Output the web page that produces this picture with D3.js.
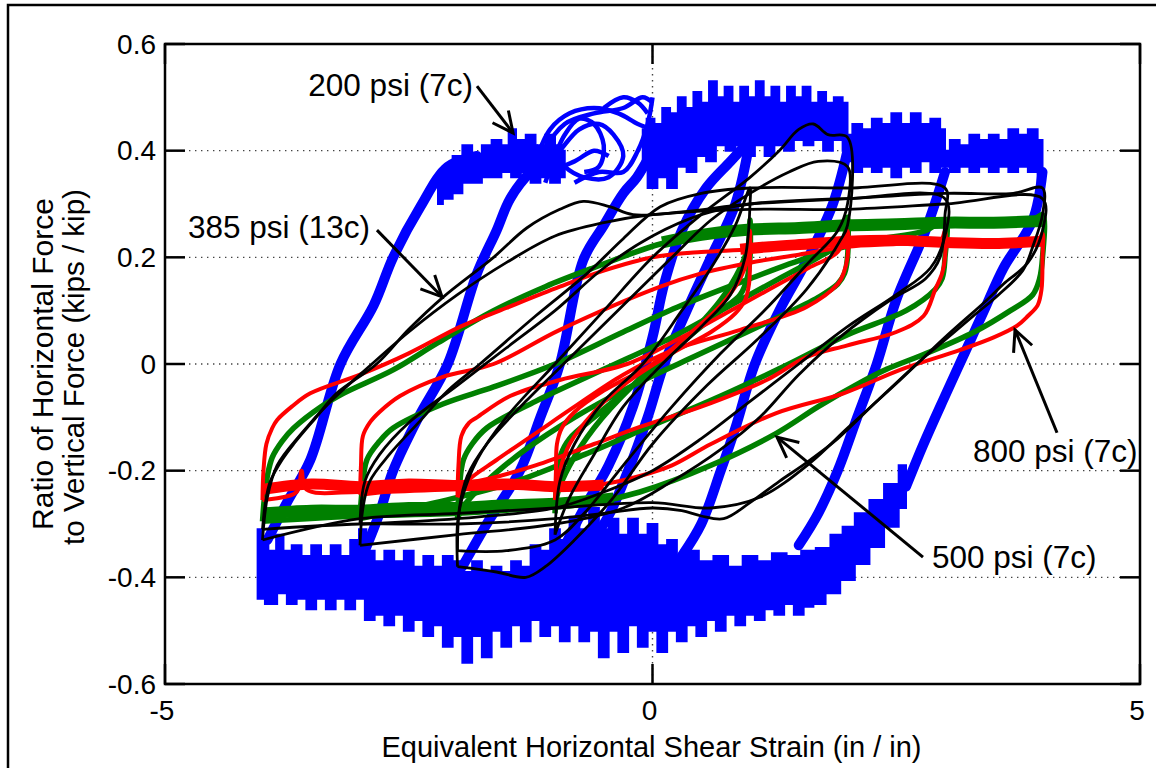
<!DOCTYPE html>
<html><head><meta charset="utf-8">
<script src="https://cdn.jsdelivr.net/npm/d3@7"></script>
<style>
body{margin:0;background:#fff;}
text{font-family:"Liberation Sans",Arial,sans-serif;fill:#000;}
</style>
</head><body>
<svg id="c" width="1156" height="768"></svg>
<script>
// ---------------- DATA ----------------
const xTicks = [-5, 0, 5];
const xTickLabels = ["-5", "0", "5"];
const yTicks = [-0.6, -0.4, -0.2, 0, 0.2, 0.4, 0.6];
const yTickLabels = ["-0.6", "-0.4", "-0.2", "0", "0.2", "0.4", "0.6"];
const xTitle = "Equivalent Horizontal Shear Strain (in / in)";
const yTitle = ["Ratio of Horizontal Force", "to Vertical Force (kips / kip)"];

// 200 psi (blue) - noisy plateau bands (closed outlines: upper edge then lower edge)
const blueBandTopA = [[-2.2,0.35],[-2.1,0.37],[-2.0,0.39],[-1.9,0.41],[-1.8,0.39],[-1.7,0.41],[-1.6,0.42],[-1.5,0.41],[-1.45,0.44],[-1.35,0.42],[-1.25,0.43],[-1.15,0.41],[-1.05,0.43],[-0.95,0.41],[-0.9,0.40],
  [-0.9,0.35],[-1.0,0.34],[-1.1,0.35],[-1.2,0.34],[-1.3,0.36],[-1.4,0.35],[-1.5,0.36],[-1.6,0.35],[-1.7,0.35],[-1.8,0.34],[-1.9,0.34],[-2.0,0.32],[-2.1,0.31],[-2.2,0.30]];
const blueBandTopB = [[-0.1,0.44],[-0.02,0.46],[0.06,0.45],[0.14,0.48],[0.22,0.47],[0.3,0.50],[0.38,0.48],[0.46,0.51],[0.54,0.49],[0.62,0.53],[0.7,0.50],[0.78,0.52],[0.86,0.49],[0.94,0.52],[1.02,0.50],[1.1,0.53],[1.18,0.50],[1.26,0.52],[1.34,0.49],[1.42,0.52],[1.5,0.50],[1.58,0.52],[1.66,0.49],[1.74,0.51],[1.82,0.49],[1.9,0.50],[2.0,0.49],
  [2.0,0.40],[1.9,0.42],[1.8,0.40],[1.7,0.42],[1.6,0.41],[1.5,0.42],[1.4,0.40],[1.3,0.41],[1.2,0.39],[1.1,0.41],[1.0,0.39],[0.9,0.41],[0.8,0.40],[0.7,0.41],[0.6,0.38],[0.5,0.39],[0.4,0.36],[0.3,0.37],[0.2,0.33],[0.1,0.35],[0.0,0.33],[-0.1,0.37]];
const blueBandTopC = [[2.0,0.43],[2.1,0.45],[2.2,0.44],[2.3,0.46],[2.4,0.45],[2.5,0.47],[2.6,0.45],[2.7,0.47],[2.8,0.45],[2.9,0.46],[3.0,0.44],
  [3.0,0.37],[2.9,0.36],[2.8,0.38],[2.7,0.36],[2.6,0.37],[2.5,0.35],[2.4,0.37],[2.3,0.36],[2.2,0.37],[2.1,0.36],[2.0,0.38]];
const blueBandTopD = [[3.0,0.40],[3.1,0.42],[3.2,0.41],[3.3,0.43],[3.4,0.42],[3.5,0.43],[3.6,0.42],[3.7,0.44],[3.8,0.43],[3.9,0.44],[4.0,0.42],
  [4.0,0.33],[3.9,0.36],[3.8,0.37],[3.7,0.36],[3.6,0.37],[3.5,0.36],[3.4,0.37],[3.3,0.36],[3.2,0.37],[3.1,0.36],[3.0,0.37]];
const blueBandBottom = [[-4.05,-0.31],[-3.98,-0.33],[-3.9,-0.35],[-3.82,-0.32],[-3.75,-0.35],[-3.65,-0.34],[-3.55,-0.36],[-3.45,-0.34],[-3.35,-0.36],[-3.25,-0.34],[-3.15,-0.36],[-3.05,-0.33],[-2.97,-0.31],[-2.9,-0.35],[-2.8,-0.37],[-2.7,-0.35],[-2.6,-0.37],[-2.5,-0.35],[-2.4,-0.38],[-2.3,-0.36],[-2.2,-0.38],[-2.1,-0.36],[-2.0,-0.37],[-1.9,-0.39],[-1.8,-0.37],[-1.7,-0.39],[-1.6,-0.38],[-1.5,-0.39],[-1.4,-0.37],[-1.3,-0.38],[-1.2,-0.34],[-1.1,-0.35],[-1.0,-0.31],[-0.9,-0.33],[-0.8,-0.29],[-0.7,-0.31],[-0.6,-0.27],[-0.5,-0.31],[-0.4,-0.29],[-0.3,-0.32],[-0.2,-0.29],[-0.1,-0.32],[0.0,-0.30],[0.1,-0.34],[0.2,-0.33],[0.3,-0.36],[0.4,-0.35],[0.55,-0.37],[0.7,-0.36],[0.85,-0.38],[1.0,-0.36],[1.15,-0.37],[1.3,-0.355],[1.45,-0.36],[1.6,-0.35],[1.75,-0.345],[1.9,-0.32],[2.0,-0.305],[2.15,-0.28],[2.3,-0.255],[2.45,-0.225],[2.6,-0.19],
  [2.6,-0.27],[2.45,-0.305],[2.3,-0.343],[2.15,-0.375],[2.0,-0.405],[1.85,-0.43],[1.7,-0.45],[1.6,-0.455],[1.5,-0.47],[1.4,-0.45],[1.3,-0.47],[1.2,-0.46],[1.1,-0.48],[1.0,-0.47],[0.9,-0.49],[0.8,-0.47],[0.7,-0.50],[0.6,-0.48],[0.5,-0.51],[0.4,-0.49],[0.3,-0.52],[0.2,-0.50],[0.1,-0.54],[0.0,-0.50],[-0.1,-0.53],[-0.2,-0.49],[-0.3,-0.54],[-0.4,-0.50],[-0.5,-0.55],[-0.6,-0.50],[-0.7,-0.52],[-0.8,-0.49],[-0.9,-0.52],[-1.0,-0.49],[-1.1,-0.51],[-1.2,-0.48],[-1.3,-0.52],[-1.4,-0.49],[-1.5,-0.53],[-1.6,-0.50],[-1.7,-0.55],[-1.8,-0.51],[-1.9,-0.56],[-2.0,-0.51],[-2.1,-0.53],[-2.2,-0.49],[-2.3,-0.51],[-2.4,-0.48],[-2.5,-0.50],[-2.6,-0.47],[-2.7,-0.49],[-2.8,-0.47],[-2.9,-0.48],[-3.0,-0.44],[-3.1,-0.46],[-3.2,-0.44],[-3.3,-0.46],[-3.4,-0.44],[-3.5,-0.46],[-3.6,-0.44],[-3.7,-0.45],[-3.8,-0.43],[-3.9,-0.45],[-4.05,-0.44]];
// 200 psi (blue) - loading / unloading branches
const blueRise4 = [[-3.95,-0.33],[-3.75,-0.26],[-3.51,-0.18],[-3.2,0.0],[-2.86,0.11],[-2.66,0.2],[-2.38,0.295],[-2.1,0.37],[-1.8,0.39]];
const blueRise3 = [[-2.95,-0.35],[-2.8,-0.28],[-2.66,-0.2],[-2.4,-0.1],[-2.1,0.0],[-1.8,0.17],[-1.6,0.25],[-1.46,0.31],[-1.25,0.36],[-1.1,0.38]];
const blueRise2 = [[-1.95,-0.38],[-1.7,-0.3],[-1.36,-0.2],[-1.15,-0.1],[-0.95,0.0],[-0.71,0.195],[-0.5,0.26],[-0.3,0.32],[-0.16,0.35],[0.0,0.4]];
const blueRise1 = [[-0.95,-0.36],[-0.7,-0.27],[-0.45,-0.19],[-0.2,-0.08],[0.0,0.05],[0.12,0.15],[0.3,0.25],[0.55,0.33],[0.8,0.38],[1.0,0.42]];
const blueFall4 = [[4.0,0.36],[3.9,0.27],[3.6,0.18],[3.4,0.1],[3.2,0.02],[3.0,-0.06],[2.78,-0.15],[2.6,-0.23]];
const blueFall3 = [[3.0,0.36],[2.8,0.25],[2.5,0.12],[2.3,0.0],[2.1,-0.1],[1.9,-0.2],[1.7,-0.28],[1.5,-0.34]];
const blueFall2 = [[2.0,0.40],[1.85,0.3],[1.6,0.2],[1.3,0.1],[1.05,0.0],[0.85,-0.12],[0.7,-0.2],[0.5,-0.3],[0.3,-0.36]];
const blueFall1 = [[1.0,0.42],[0.85,0.3],[0.6,0.2],[0.35,0.1],[0.12,0.0],[-0.05,-0.1],[-0.25,-0.2],[-0.5,-0.3],[-0.8,-0.36]];
const blueSwirl1 = [[-1.2,0.38],[-1.05,0.44],[-0.85,0.47],[-0.6,0.48],[-0.35,0.47],[-0.15,0.45],[0.0,0.44]];
const blueSwirl2 = [[-1.15,0.36],[-0.95,0.40],[-0.75,0.44],[-0.55,0.45],[-0.4,0.43],[-0.3,0.39],[-0.45,0.35],[-0.7,0.35],[-0.9,0.37],[-1.05,0.41],[-0.9,0.45],[-0.6,0.47],[-0.3,0.48],[-0.1,0.50],[0.0,0.49]];
const blueSwirl3 = [[-0.8,0.34],[-0.55,0.36],[-0.3,0.36],[-0.15,0.40],[-0.05,0.45],[0.0,0.50]];
const blueSwirl4 = [[-1.2,0.41],[-1.0,0.37],[-0.8,0.38],[-0.6,0.40],[-0.45,0.39]];
const blueSwirl5 = [[-1.1,0.34],[-1.0,0.39],[-0.9,0.43],[-0.75,0.46],[-0.6,0.45],[-0.5,0.41],[-0.55,0.37],[-0.7,0.36]];
const blueSwirl6 = [[-0.5,0.48],[-0.3,0.50],[-0.15,0.49],[-0.05,0.47]];

// 500 psi (green) loops
const greenLoop4 = [[-4,-0.295],[-3.98,-0.25],[-3.95,-0.21],[-3.9,-0.175],[-3.8,-0.145],[-3.68,-0.12],[-3.4,-0.08],[-3.17,-0.055],[-2.66,-0.011],[-2.2,0.04],[-1.63,0.1],[-1.1,0.145],[-0.61,0.18],[0.08,0.225],[0.5,0.24],[1,0.25],[2,0.26],[3,0.265],[3.9,0.27],[4,0.28],
  [4,0.2],[3.97,0.16],[3.9,0.13],[3.67,0.1],[3.3,0.06],[2.81,0.02],[2.4,-0.01],[2.13,-0.035],[1.7,-0.08],[1.27,-0.13],[0.6,-0.19],[-0.13,-0.24],[-0.6,-0.26],[-1.2,-0.27],[-2,-0.28],[-3,-0.285],[-4,-0.295]];
const greenLoop3 = [[-3,-0.29],[-2.98,-0.24],[-2.93,-0.18],[-2.8,-0.145],[-2.66,-0.12],[-2.15,-0.075],[-1.63,-0.043],[-1.0,0.0],[-0.3,0.06],[0.3,0.11],[1,0.16],[1.6,0.2],[2.2,0.23],[2.8,0.25],[3,0.27],
  [3,0.2],[2.97,0.16],[2.9,0.14],[2.6,0.1],[2.0,0.055],[1.4,0.0],[0.7,-0.06],[0,-0.115],[-0.7,-0.17],[-1.4,-0.22],[-2.0,-0.25],[-2.6,-0.275],[-3,-0.29]];
const greenLoop2 = [[-2,-0.29],[-1.98,-0.23],[-1.94,-0.18],[-1.85,-0.15],[-1.7,-0.12],[-1.2,-0.07],[-0.5,-0.01],[0.2,0.05],[0.8,0.11],[1.3,0.16],[1.7,0.2],[1.95,0.23],[2,0.275],
  [2,0.2],[1.97,0.17],[1.9,0.15],[1.7,0.125],[1.2,0.08],[0.5,0.02],[-0.2,-0.04],[-0.8,-0.1],[-1.3,-0.16],[-1.7,-0.22],[-1.95,-0.27],[-2,-0.29]];
const greenLoop1 = [[-1,-0.28],[-0.98,-0.22],[-0.94,-0.17],[-0.85,-0.14],[-0.6,-0.1],[-0.2,-0.04],[0.3,0.04],[0.7,0.12],[0.9,0.18],[0.98,0.22],[1,0.27],
  [1,0.2],[0.97,0.16],[0.9,0.13],[0.7,0.1],[0.3,0.04],[-0.2,-0.04],[-0.6,-0.12],[-0.85,-0.19],[-0.97,-0.24],[-1,-0.28]];
const greenTopBand = [[0.1,0.228],[0.5,0.242],[1,0.252],[1.5,0.255],[2,0.26],[2.5,0.262],[3,0.265],[3.5,0.265],[4,0.268]];
const greenBottomBand = [[-4,-0.28],[-3.5,-0.275],[-3,-0.275],[-2.5,-0.27],[-2,-0.27],[-1.5,-0.265],[-1,-0.262],[-0.4,-0.252]];

// 800 psi (red) loops
const redLoop4 = [[-4,-0.255],[-3.99,-0.2],[-3.96,-0.15],[-3.9,-0.12],[-3.85,-0.105],[-3.7,-0.08],[-3.51,-0.055],[-3.0,-0.02],[-2.5,0.02],[-1.97,0.07],[-1.5,0.105],[-0.95,0.145],[-0.5,0.175],[0,0.2],[0.5,0.21],[1,0.215],[1.5,0.225],[2,0.23],[2.5,0.23],[3,0.225],[3.5,0.225],[3.95,0.23],[4,0.245],
  [4,0.2],[3.99,0.14],[3.95,0.11],[3.85,0.09],[3.74,0.072],[3.5,0.05],[3.15,0.026],[2.54,-0.011],[1.96,-0.055],[1.27,-0.092],[0.6,-0.15],[0.2,-0.19],[-0.13,-0.21],[-0.5,-0.225],[-1,-0.23],[-2,-0.235],[-3,-0.24],[-3.55,-0.235],[-3.6,-0.2],[-3.65,-0.24],[-4,-0.255]];
const redLoop3 = [[-3,-0.245],[-2.99,-0.19],[-2.97,-0.135],[-2.9,-0.11],[-2.8,-0.09],[-2.59,-0.06],[-2.15,-0.024],[-1.63,0.0],[-0.95,0.064],[0.08,0.145],[0.5,0.17],[1,0.19],[1.5,0.205],[2,0.22],[2.5,0.225],[2.95,0.23],[3,0.25],
  [3,0.2],[2.97,0.17],[2.9,0.14],[2.78,0.09],[2.5,0.06],[2.0,0.035],[1.58,0.013],[1.17,-0.03],[0.5,-0.08],[-0.13,-0.118],[-0.6,-0.15],[-1.2,-0.19],[-1.8,-0.22],[-2.5,-0.235],[-3,-0.245]];
const redLoop2 = [[-2,-0.25],[-1.99,-0.19],[-1.96,-0.135],[-1.88,-0.11],[-1.8,-0.1],[-1.46,-0.06],[-0.95,-0.03],[-0.26,0.0],[0.3,0.05],[0.8,0.1],[1.2,0.14],[1.6,0.18],[1.9,0.21],[2,0.25],
  [2,0.2],[1.96,0.17],[1.9,0.15],[1.58,0.107],[0.9,0.064],[0.21,0.026],[-0.3,-0.02],[-0.8,-0.08],[-1.2,-0.13],[-1.6,-0.18],[-1.9,-0.22],[-2,-0.25]];
const redLoop1 = [[-1,-0.255],[-0.99,-0.2],[-0.98,-0.15],[-0.93,-0.12],[-0.8,-0.09],[-0.5,-0.05],[0,0.0],[0.4,0.06],[0.7,0.11],[0.9,0.16],[0.98,0.2],[1,0.25],
  [1,0.2],[0.99,0.15],[0.95,0.12],[0.85,0.095],[0.6,0.06],[0.2,0.02],[-0.3,-0.04],[-0.6,-0.09],[-0.85,-0.15],[-0.95,-0.2],[-1,-0.255]];
const redTopBand = [[0.9,0.215],[1.2,0.22],[1.6,0.225],[2,0.23],[2.5,0.232],[3,0.228],[3.5,0.226],[4,0.23]];
const redBottomBand = [[-4,-0.235],[-3.5,-0.225],[-3,-0.23],[-2.5,-0.225],[-2,-0.228],[-1.5,-0.225],[-1,-0.23],[-0.5,-0.227]];

// 385 psi (black) loops
const blackLoop4a = [[-4.0,-0.31],[-3.97,-0.26],[-3.92,-0.22],[-3.8,-0.18],[-3.68,-0.15],[-3.45,-0.1],[-3.24,-0.055],[-2.83,0.0],[-2.5,0.065],[-2.15,0.125],[-1.63,0.2],[-1.29,0.255],[-0.95,0.29],[-0.71,0.305],[-0.44,0.295],[-0.2,0.28],[0.3,0.285],[1,0.3],[2,0.31],[3,0.32],[3.7,0.32],[4.0,0.33],
  [4.0,0.28],[3.9,0.22],[3.8,0.176],[3.55,0.13],[3.29,0.09],[3.0,0.045],[2.71,0.0],[2.3,-0.07],[1.9,-0.14],[1.58,-0.185],[1.3,-0.22],[1.0,-0.26],[0.73,-0.29],[0.5,-0.285],[0.3,-0.275],[0,-0.27],[-0.5,-0.28],[-1,-0.29],[-2,-0.3],[-3,-0.3],[-4,-0.31]];
const blackLoop4b = [[-4.0,-0.33],[-3.95,-0.25],[-3.85,-0.19],[-3.6,-0.13],[-3.3,-0.07],[-3.0,-0.02],[-2.5,0.06],[-2.0,0.13],[-1.5,0.19],[-1.0,0.24],[-0.5,0.265],[0,0.28],[1,0.29],[2,0.29],[3,0.3],[4,0.31],
  [4,0.25],[3.85,0.19],[3.6,0.15],[3.43,0.12],[3.0,0.05],[2.54,-0.03],[2.0,-0.12],[1.62,-0.185],[1.1,-0.25],[0.6,-0.27],[0,-0.26],[-1,-0.27],[-2,-0.28],[-3,-0.29],[-4,-0.33]];
const blackLoop3a = [[-3.0,-0.34],[-2.97,-0.27],[-2.9,-0.22],[-2.7,-0.17],[-2.4,-0.11],[-2.1,-0.05],[-1.77,0.0],[-1.2,0.09],[-0.67,0.17],[-0.3,0.235],[0.08,0.295],[0.5,0.32],[1.0,0.33],[2.0,0.33],[3.0,0.33],
  [3.0,0.28],[2.95,0.2],[2.8,0.16],[2.44,0.12],[1.92,0.05],[1.5,-0.02],[1.1,-0.1],[0.7,-0.16],[0.2,-0.22],[-0.3,-0.27],[-1,-0.3],[-2,-0.32],[-3,-0.34]];
const blackLoop3b = [[-3,-0.3],[-2.95,-0.22],[-2.8,-0.17],[-2.5,-0.11],[-2.0,-0.04],[-1.5,0.03],[-1.0,0.1],[-0.5,0.18],[0,0.24],[0.5,0.28],[1,0.3],[2,0.31],[3,0.31],
  [3,0.24],[2.85,0.18],[2.5,0.13],[2,0.07],[1.5,0.0],[1.0,-0.07],[0.5,-0.14],[0,-0.2],[-0.5,-0.24],[-1.0,-0.27],[-2,-0.29],[-3,-0.3]];
const blackLoop2a = [[-2.0,-0.38],[-2.0,-0.3],[-1.95,-0.25],[-1.8,-0.18],[-1.5,-0.1],[-1.0,0.0],[-0.5,0.1],[0,0.2],[0.5,0.28],[1.0,0.35],[1.3,0.4],[1.5,0.44],[1.65,0.45],[1.8,0.43],[2.0,0.425],
  [2.0,0.26],[1.92,0.23],[1.58,0.14],[1.07,0.045],[0.56,-0.04],[0.0,-0.15],[-0.4,-0.25],[-0.8,-0.33],[-1.1,-0.38],[-1.3,-0.4],[-1.6,-0.39],[-2.0,-0.38]];
const blackLoop2b = [[-2,-0.35],[-1.98,-0.27],[-1.9,-0.21],[-1.7,-0.15],[-1.3,-0.07],[-0.8,0.02],[-0.3,0.11],[0.2,0.2],[0.6,0.27],[1.0,0.32],[1.4,0.36],[1.7,0.38],[2.0,0.37],
  [2.0,0.3],[1.9,0.25],[1.6,0.19],[1.2,0.11],[0.7,0.02],[0.2,-0.08],[-0.3,-0.19],[-0.7,-0.28],[-1.0,-0.33],[-1.5,-0.35],[-2,-0.35]];
const blackLoop1 = [[-1,-0.32],[-0.95,-0.22],[-0.8,-0.15],[-0.5,-0.07],[-0.1,0.0],[0.3,0.1],[0.6,0.18],[0.85,0.26],[1,0.33],
  [1,0.3],[0.95,0.2],[0.8,0.13],[0.5,0.07],[0.1,0.0],[-0.3,-0.08],[-0.6,-0.17],[-0.85,-0.25],[-1,-0.32]];

// annotations (data coordinates)
const annotations = [
  {label:"200 psi (7c)", at:[-3.53,0.5025], tail:[-1.8,0.521], tip:[-1.43,0.433]},
  {label:"385 psi (13c)", at:[-4.764,0.236], tail:[-2.826,0.251], tip:[-2.159,0.126]},
  {label:"800 psi (7c)", at:[3.287,-0.184], tail:[4.149,-0.129], tip:[3.718,0.064]},
  {label:"500 psi (7c)", at:[2.867,-0.383], tail:[2.774,-0.362], tip:[1.277,-0.137]}
];

// ---------------- DRAW ----------------
const svg = d3.select("#c");
const L = 165, R = 1140, T = 44, B = 684;
const x = d3.scaleLinear().domain([-5,5]).range([L,R]);
const y = d3.scaleLinear().domain([-0.6,0.6]).range([B,T]);

// outer frame
svg.append("rect").attr("x",8).attr("y",5).attr("width",1160).attr("height",800)
  .attr("fill","none").attr("stroke","#000").attr("stroke-width",2.5);

// grid (dotted)
const grid = svg.append("g").attr("stroke","#444").attr("stroke-width",1.4).attr("stroke-dasharray","1.4,4.6");
yTicks.filter(v=>v>-0.6 && v<0.6).forEach(v=>{
  grid.append("line").attr("x1",L).attr("x2",R).attr("y1",y(v)).attr("y2",y(v));
});
xTicks.filter(v=>v>-5 && v<5).forEach(v=>{
  grid.append("line").attr("y1",T).attr("y2",B).attr("x1",x(v)).attr("x2",x(v));
});

const data = svg.append("g");
const lineSmooth = d3.line().x(d=>x(d[0])).y(d=>y(d[1])).curve(d3.curveCatmullRom.alpha(0.5));
const lineStep = d3.line().x(d=>x(d[0])).y(d=>y(d[1])).curve(d3.curveStep);

const BLUE = "#0000ff", GREEN = "#008000", RED = "#ff0000";
// blue
[blueBandTopA, blueBandTopB, blueBandTopC, blueBandTopD, blueBandBottom].forEach(p=>{
  data.append("path").attr("d",lineStep(p)+"Z").attr("fill",BLUE).attr("stroke",BLUE).attr("stroke-width",2).attr("stroke-linejoin","miter");
});
[blueRise4, blueRise3, blueRise2, blueRise1, blueFall4, blueFall3, blueFall2, blueFall1].forEach(p=>{
  data.append("path").attr("d",lineSmooth(p)).attr("fill","none").attr("stroke",BLUE).attr("stroke-width",10).attr("stroke-linecap","round");
});
[blueSwirl1, blueSwirl2, blueSwirl3, blueSwirl4, blueSwirl5, blueSwirl6].forEach(p=>{
  data.append("path").attr("d",lineSmooth(p)).attr("fill","none").attr("stroke",BLUE).attr("stroke-width",4.5);
});

// green
[greenTopBand, greenBottomBand].forEach(p=>{
  data.append("path").attr("d",lineSmooth(p)).attr("fill","none").attr("stroke",GREEN).attr("stroke-width",12).attr("stroke-linecap","butt");
});
[greenLoop4, greenLoop3, greenLoop2, greenLoop1].forEach(p=>{
  data.append("path").attr("d",lineSmooth(p)).attr("fill","none").attr("stroke",GREEN).attr("stroke-width",5.5).attr("stroke-linejoin","round");
});
// red
[redTopBand, redBottomBand].forEach(p=>{
  data.append("path").attr("d",lineSmooth(p)).attr("fill","none").attr("stroke",RED).attr("stroke-width",11).attr("stroke-linecap","butt");
});
[redLoop4, redLoop3, redLoop2, redLoop1].forEach(p=>{
  data.append("path").attr("d",lineSmooth(p)).attr("fill","none").attr("stroke",RED).attr("stroke-width",4).attr("stroke-linejoin","round");
});
// black
[blackLoop4a, blackLoop4b, blackLoop3a, blackLoop3b, blackLoop2a, blackLoop2b, blackLoop1].forEach(p=>{
  data.append("path").attr("d",lineSmooth(p)).attr("fill","none").attr("stroke","#000").attr("stroke-width",2.8).attr("stroke-linejoin","round");
});

// axes box + ticks
const ax = svg.append("g").attr("stroke","#000").attr("stroke-width",2.5);
ax.append("rect").attr("x",L).attr("y",T).attr("width",R-L).attr("height",B-T).attr("fill","none");
const TL = 20;
yTicks.forEach(v=>{
  ax.append("line").attr("x1",L).attr("x2",L+TL).attr("y1",y(v)).attr("y2",y(v));
  ax.append("line").attr("x1",R).attr("x2",R-TL).attr("y1",y(v)).attr("y2",y(v));
});
xTicks.forEach(v=>{
  ax.append("line").attr("y1",B).attr("y2",B-TL).attr("x1",x(v)).attr("x2",x(v));
  ax.append("line").attr("y1",T).attr("y2",T+TL).attr("x1",x(v)).attr("x2",x(v));
});

// tick labels
yTicks.forEach((v,i)=>{
  svg.append("text").attr("x",L-9).attr("y",y(v)).attr("dy","0.35em").attr("text-anchor","end")
    .attr("font-size",28).text(yTickLabels[i]);
});
xTicks.forEach((v,i)=>{
  svg.append("text").attr("x",x(v)-3).attr("y",B+36).attr("text-anchor","middle")
    .attr("font-size",28).text(xTickLabels[i]);
});

// titles
svg.append("text").attr("x",(L+R)/2 - 1).attr("y",757).attr("text-anchor","middle").attr("font-size",29).text(xTitle);
svg.append("text").attr("transform",`translate(53,${(T+B)/2}) rotate(-90)`).attr("text-anchor","middle").attr("font-size",30).text(yTitle[0]);
svg.append("text").attr("transform",`translate(84,${(T+B)/2 + 3}) rotate(-90)`).attr("text-anchor","middle").attr("font-size",29.5).text(yTitle[1]);

// annotations
const ann = svg.append("g");
annotations.forEach(a=>{
  ann.append("text").attr("x",x(a.at[0])).attr("y",y(a.at[1])).attr("font-size",31.5).text(a.label);
  const x1=x(a.tail[0]), y1=y(a.tail[1]), x2=x(a.tip[0]), y2=y(a.tip[1]);
  ann.append("line").attr("x1",x1).attr("y1",y1).attr("x2",x2).attr("y2",y2).attr("stroke","#000").attr("stroke-width",3);
  const ang = Math.atan2(y1-y2, x1-x2), len = 23, h = 0.45;
  const p1 = [x2+len*Math.cos(ang+h), y2+len*Math.sin(ang+h)];
  const p2 = [x2+len*Math.cos(ang-h), y2+len*Math.sin(ang-h)];
  ann.append("path").attr("d",`M${p1[0]},${p1[1]}L${x2},${y2}L${p2[0]},${p2[1]}`)
    .attr("fill","none").attr("stroke","#000").attr("stroke-width",3).attr("stroke-linejoin","miter");
});
</script>
</body></html>
